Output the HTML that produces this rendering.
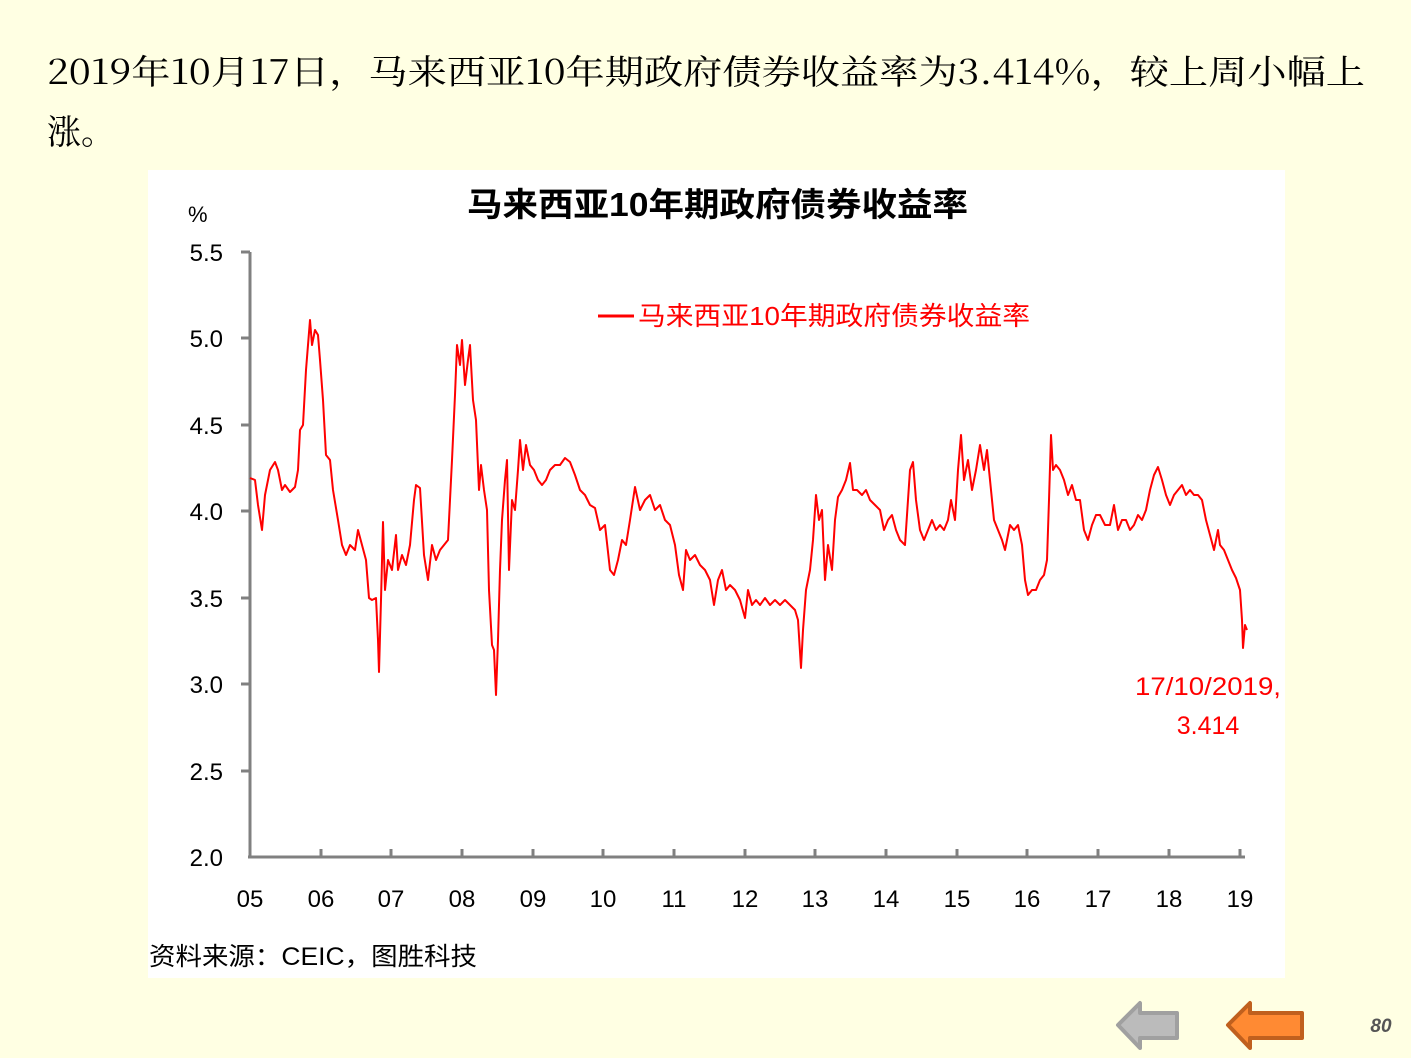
<!DOCTYPE html>
<html><head><meta charset="utf-8"><style>
html,body{margin:0;padding:0}
body{width:1411px;height:1058px;background:#FFFFE3;position:relative;overflow:hidden;font-family:"Liberation Sans","Noto Sans CJK SC",sans-serif}
</style></head><body>
<svg width="1411" height="1058" style="position:absolute;left:0;top:0">
<text x="47" y="84" font-size="34" font-family="Noto Serif CJK SC,Liberation Serif,serif" textLength="1318" lengthAdjust="spacingAndGlyphs">2019年10月17日，马来西亚10年期政府债券收益率为3.414%，较上周小幅上</text>
<text x="47" y="144" font-size="34" font-family="Noto Serif CJK SC,Liberation Serif,serif">涨。</text>
<rect x="148" y="170" width="1137" height="808" fill="#fff"/>
<text x="467" y="216" font-size="33" font-weight="bold" textLength="501" lengthAdjust="spacingAndGlyphs">马来西亚10年期政府债券收益率</text>
<text x="188" y="222" font-size="22">%</text>
<g font-size="24" text-anchor="end" fill="#000">
<text x="223" y="261">5.5</text><text x="223" y="347">5.0</text><text x="223" y="434">4.5</text><text x="223" y="520">4.0</text><text x="223" y="607">3.5</text><text x="223" y="693">3.0</text><text x="223" y="780">2.5</text><text x="223" y="866">2.0</text>
</g>
<g stroke="#808080" stroke-width="3" fill="none">
<line x1="250" y1="252" x2="250" y2="858"/>
<line x1="248" y1="857" x2="1245" y2="857"/>
<path d="M241 252H250M241 338H250M241 425H250M241 511H250M241 598H250M241 684H250M241 771H250"/>
<path d="M321 849V857M391 849V857M462 849V857M533 849V857M603 849V857M674 849V857M745 849V857M815 849V857M886 849V857M957 849V857M1027 849V857M1098 849V857M1169 849V857M1240 849V857"/>
</g>
<g font-size="24" text-anchor="middle">
<text x="250" y="907">05</text><text x="321" y="907">06</text><text x="391" y="907">07</text><text x="462" y="907">08</text><text x="533" y="907">09</text><text x="603" y="907">10</text><text x="674" y="907">11</text><text x="745" y="907">12</text><text x="815" y="907">13</text><text x="886" y="907">14</text><text x="957" y="907">15</text><text x="1027" y="907">16</text><text x="1098" y="907">17</text><text x="1169" y="907">18</text><text x="1240" y="907">19</text>
</g>
<line x1="598" y1="316" x2="634" y2="316" stroke="#f00" stroke-width="3"/>
<text x="638" y="325" font-size="26" fill="#f00" textLength="392" lengthAdjust="spacingAndGlyphs">马来西亚10年期政府债券收益率</text>
<text x="1208" y="695" font-size="25" fill="#f00" text-anchor="middle" textLength="146" lengthAdjust="spacingAndGlyphs">17/10/2019,</text>
<text x="1208" y="734" font-size="25" fill="#f00" text-anchor="middle">3.414</text>
<text x="149" y="965" font-size="25" textLength="328" lengthAdjust="spacingAndGlyphs">资料来源：CEIC，图胜科技</text>
<polyline fill="none" stroke="#f00" stroke-width="2" stroke-linejoin="round" points="250,478 255,480 258,505 262,530 265,495 270,470 275,462 278,470 282,490 285,485 290,492 295,487 298,470 300,430 303,425 306,370 310,320 312,345 315,330 318,335 320,360 323,400 326,455 330,460 333,490 338,520 342,545 346,555 350,545 355,550 358,530 362,545 366,560 369,598 372,600 376,598 378,640 379,672 381,600 383,522 385,590 388,560 392,570 396,535 398,570 402,555 406,565 410,545 414,500 416,485 420,488 424,555 428,580 432,545 436,560 440,550 444,545 448,540 452,460 455,395 457,345 460,365 462,340 465,385 468,360 470,345 473,400 476,420 479,490 481,465 484,490 487,510 489,590 492,645 494,650 496,695 498,640 500,570 502,520 505,480 507,460 509,570 512,500 515,510 518,470 520,440 523,470 526,445 530,465 534,470 538,480 542,485 546,480 550,470 555,465 560,465 565,458 570,462 575,475 580,490 585,495 590,505 595,508 600,530 605,525 610,570 614,575 618,560 622,540 626,545 630,520 635,487 640,510 645,500 650,495 655,510 660,505 665,520 670,525 675,545 679,575 683,590 686,550 690,560 695,555 700,565 705,570 710,580 714,605 718,580 722,570 726,590 730,585 735,590 740,600 745,618 748,590 752,605 756,600 760,605 765,598 770,605 775,600 780,605 785,600 790,605 795,610 798,620 801,668 803,630 806,590 810,570 813,540 816,495 819,520 822,510 825,580 828,545 832,570 835,520 838,497 842,490 846,480 850,463 853,490 857,490 862,495 866,490 870,500 875,505 880,510 884,530 888,520 892,515 896,530 900,540 905,545 910,470 913,462 916,500 920,530 924,540 928,530 932,520 936,530 940,525 944,530 948,520 951,500 955,520 958,470 961,435 964,480 968,460 972,490 976,470 980,445 984,470 987,450 990,480 994,520 998,530 1002,540 1005,550 1010,525 1014,530 1018,525 1022,545 1025,580 1028,595 1032,590 1036,590 1040,580 1044,575 1047,560 1049,500 1051,435 1053,470 1056,465 1060,470 1064,480 1068,495 1072,485 1076,500 1080,500 1084,530 1088,540 1092,525 1096,515 1100,515 1105,525 1110,525 1114,505 1118,530 1122,520 1126,520 1130,530 1134,525 1138,515 1142,520 1146,510 1150,490 1154,475 1158,467 1162,480 1166,495 1170,505 1174,495 1178,490 1182,485 1186,495 1190,490 1194,495 1198,495 1202,500 1206,520 1210,535 1214,550 1218,530 1220,545 1224,550 1228,560 1232,570 1236,578 1240,590 1242,620 1243,648 1245,625 1247,630"/>
<path d="M1118 1025 L1140 1003 V1013 H1177 V1038 H1140 V1048 Z" fill="#BBBBBB" stroke="#A0A0A0" stroke-width="4" stroke-linejoin="round"/>
<path d="M1228 1025 L1250 1003 V1013 H1302 V1038 H1250 V1048 Z" fill="#FF8A33" stroke="#C0601E" stroke-width="4" stroke-linejoin="round"/>
<text x="1381" y="1032" font-size="19" font-style="italic" font-weight="bold" fill="#555" text-anchor="middle">80</text>
</svg>
</body></html>
